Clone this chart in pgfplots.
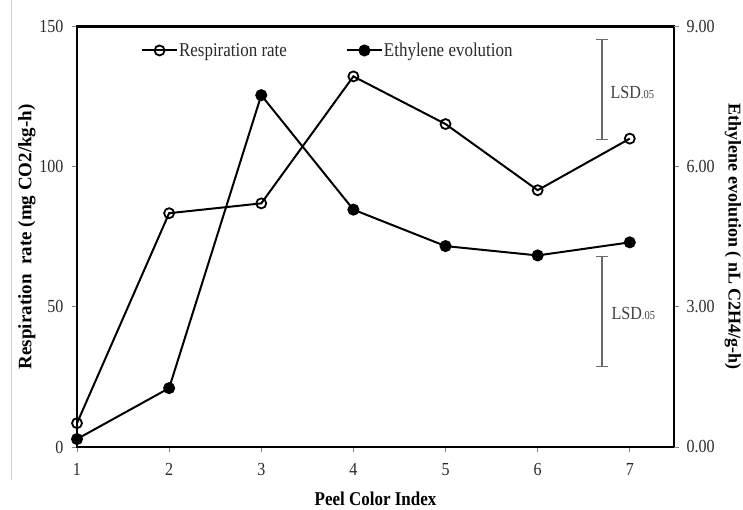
\documentclass[border=0pt]{standalone}
\usepackage{fontspec}
\setmainfont{Liberation Serif}
\usepackage{graphicx}
\usepackage{pgfplots}
\pgfplotsset{compat=1.18}
\definecolor{txt}{HTML}{2a2a2a}
\definecolor{lsd}{HTML}{6a6a6a}
\definecolor{lsdt}{HTML}{404040}
\newcommand{\cond}[1]{\scalebox{0.87}[1]{#1}}
\begin{document}
\begin{tikzpicture}
\useasboundingbox (-77pt,-63pt) rectangle (666pt,447pt);
\draw[gray!35, line width=1pt] (-65pt,447pt) -- (-65pt,-33pt);
\begin{axis}[
  scale only axis, width=597pt, height=420.5pt,
  xmin=1, xmax=7.48, ymin=0, ymax=150,
  clip=false,
  axis line style={black, line width=2.2pt},
  xtick={1,2,3,4,5,6,7}, ytick={0,50,100,150},
  xtick pos=lower, ytick pos=left,
  tick align=outside, major tick length=5pt,
  major tick style={gray, line width=0.8pt},
  /pgf/number format/assume math mode=true,
  tick label style={font=\fontsize{18.4}{18.4}\selectfont, text=txt},
  xticklabel={\cond{\pgfmathprintnumber{\tick}}},
  yticklabel={\cond{\pgfmathprintnumber{\tick}}},
  xticklabel style={yshift=-8pt},
  yticklabel style={xshift=-5pt},
  xlabel={\cond{Peel Color Index}},
  ylabel={Respiration\ \ rate (mg CO2/kg-h)},
  xlabel style={font=\bfseries\fontsize{19.5}{19.5}\selectfont, at={(axis description cs:0.5,-0.1235)}, anchor=center},
  ylabel style={font=\bfseries\fontsize{19}{19}\selectfont, at={(axis description cs:-0.0838,0.5)}, anchor=center},
  legend columns=2,
  legend style={at={(axis description cs:0.107,0.943)}, anchor=west, draw=none, fill=none, inner sep=0pt,
    font=\fontsize{19.5}{19.5}\selectfont, text=txt,
    nodes={inner xsep=1pt, inner ysep=1pt},
    /tikz/every even column/.append style={column sep=58pt}},
  legend image code/.code={\draw[#1, mark repeat=2, mark phase=2] plot coordinates {(0pt,0pt) (17.5pt,0pt) (35pt,0pt)};},
]
\addplot[black, line width=2pt, mark=o, mark size=5pt, mark options={fill=white, line width=1.8pt}]
  coordinates {(1,8.5) (2,83.4) (3,86.9) (4,132.2) (5,115.2) (6,91.6) (7,110)};
\addlegendentry{\cond{Respiration rate}}
\addlegendimage{black, line width=2pt, mark=*, mark size=5pt}
\addlegendentry{\cond{Ethylene evolution}}
\addplot[lsd, line width=1.3pt, mark=-, mark size=6pt, mark options={line width=1.3pt}, forget plot]
  coordinates {(6.70,145.3) (6.70,109.7)};
\node[anchor=west, text=lsdt, font=\fontsize{18.5}{18.5}\selectfont, inner sep=0pt] at (axis cs:6.79,126.5) {\cond{LSD{\fontsize{12}{12}\selectfont.05}}};
\end{axis}
\begin{axis}[
  scale only axis, width=597pt, height=420.5pt,
  xmin=1, xmax=7.48, ymin=0, ymax=9,
  clip=false,
  axis x line=none, axis y line*=right,
  axis line style={black, line width=2.2pt},
  ytick={0,3,6,9},
  tick align=outside, major tick length=5pt,
  major tick style={gray, line width=0.8pt},
  /pgf/number format/assume math mode=true,
  yticklabel={\cond{\pgfmathprintnumber[fixed, fixed zerofill, precision=2]{\tick}}},
  yticklabel style={xshift=4pt},
  tick label style={font=\fontsize{18.4}{18.4}\selectfont, text=txt},
  ylabel={Ethylene evolution ( nL C2H4/g-h)},
  ylabel style={font=\bfseries\fontsize{18}{18}\selectfont, at={(axis description cs:1.0988,0.5)}, anchor=center, rotate=180},
]
\addplot[black, line width=2pt, mark=*, mark size=5pt]
  coordinates {(1,0.17) (2,1.26) (3,7.53) (4,5.08) (5,4.30) (6,4.10) (7,4.38)};
\addplot[lsd, line width=1.3pt, mark=-, mark size=6pt, mark options={line width=1.3pt}]
  coordinates {(6.70,4.08) (6.70,1.73)};
\node[anchor=west, text=lsdt, font=\fontsize{18.5}{18.5}\selectfont, inner sep=0pt] at (axis cs:6.80,2.86) {\cond{LSD{\fontsize{12}{12}\selectfont.05}}};
\end{axis}
\end{tikzpicture}
\end{document}
